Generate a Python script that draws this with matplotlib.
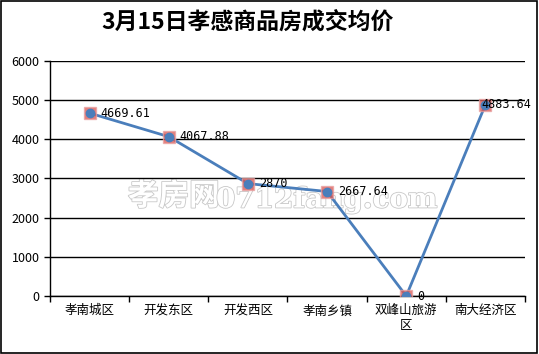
import matplotlib.pyplot as plt
import matplotlib.patheffects as pe

plt.rcParams['font.family'] = ['Noto Sans CJK SC', 'DejaVu Sans']

# data
districts = ['孝南城区', '开发东区', '开发西区', '孝南乡镇', '双峰山旅游\n区', '南大经济区']
prices = [4669.61, 4067.88, 2870, 2667.64, 0, 4883.64]
price_labels = ['4669.61', '4067.88', '2870', '2667.64', '0', '4883.64']
yticks = [0, 1000, 2000, 3000, 4000, 5000, 6000]

fig = plt.figure(figsize=(5.39, 3.54), dpi=100)
ax = fig.add_axes([50 / 539, 1 - 296 / 354, 475 / 539, 235 / 354])
ax.set_zorder(2)
ax.patch.set_alpha(0)

# outer border
fig.patches.append(plt.Rectangle((0.002, 0.004), 0.994, 0.992, transform=fig.transFigure,
                                 fill=False, edgecolor='black', linewidth=1.2))

fig.text(248 / 539, 1 - 22 / 354, '3月15日孝感商品房成交均价', ha='center', va='center',
         fontsize=16.5, fontweight='bold')

# watermark, drawn under the axes
wm_style = dict(va='center', ha='left', color='white', fontweight='bold', zorder=1,
                path_effects=[pe.withStroke(linewidth=1.2, foreground='#c8c8c8')])
fig.text(128 / 539, 1 - 196 / 354, '孝房网', fontsize=22, **wm_style)
fig.text(216 / 539, 1 - 200 / 354, '0712fang.com', fontsize=20, family='DejaVu Serif', **wm_style)

x = list(range(len(districts)))
ax.plot(x, prices, color='#4a7ebb', linewidth=2, zorder=3)
ax.plot(x, prices, linestyle='none', marker='s', markersize=9, color='#d9534f',
        alpha=0.75, markeredgecolor='#e8a0a0', zorder=4)
ax.plot(x, prices, linestyle='none', marker='o', markersize=6, color='#4a7ebb', zorder=5)

for i, (xi, yi, lab) in enumerate(zip(x, prices, price_labels)):
    dx = -3 if i == len(x) - 1 else 8
    ax.annotate(lab, (xi, yi), xytext=(dx, 0), textcoords='offset points',
                ha='left', va='center', fontsize=8.5, family='DejaVu Sans Mono', zorder=6)

ax.set_xlim(-0.5, 5.5)
ax.set_ylim(0, 6000)
ax.set_yticks(yticks)
ax.grid(axis='y', color='black', linewidth=1)
ax.set_axisbelow(True)

# ticks between categories, labels at the centres
ax.set_xticks([i - 0.5 for i in range(len(districts) + 1)])
ax.set_xticklabels([])
ax.set_xticks(x, minor=True)
ax.set_xticklabels(districts, minor=True, fontsize=9)
ax.tick_params(axis='x', which='minor', length=0, pad=6)
ax.tick_params(axis='x', which='major', length=4, direction='out', width=1)
ax.tick_params(axis='y', length=4, direction='out', width=1, labelsize=9)

for s in ['top', 'right']:
    ax.spines[s].set_visible(False)
for s in ['left', 'bottom']:
    ax.spines[s].set_linewidth(1)

fig.savefig('out.png', dpi=100)
